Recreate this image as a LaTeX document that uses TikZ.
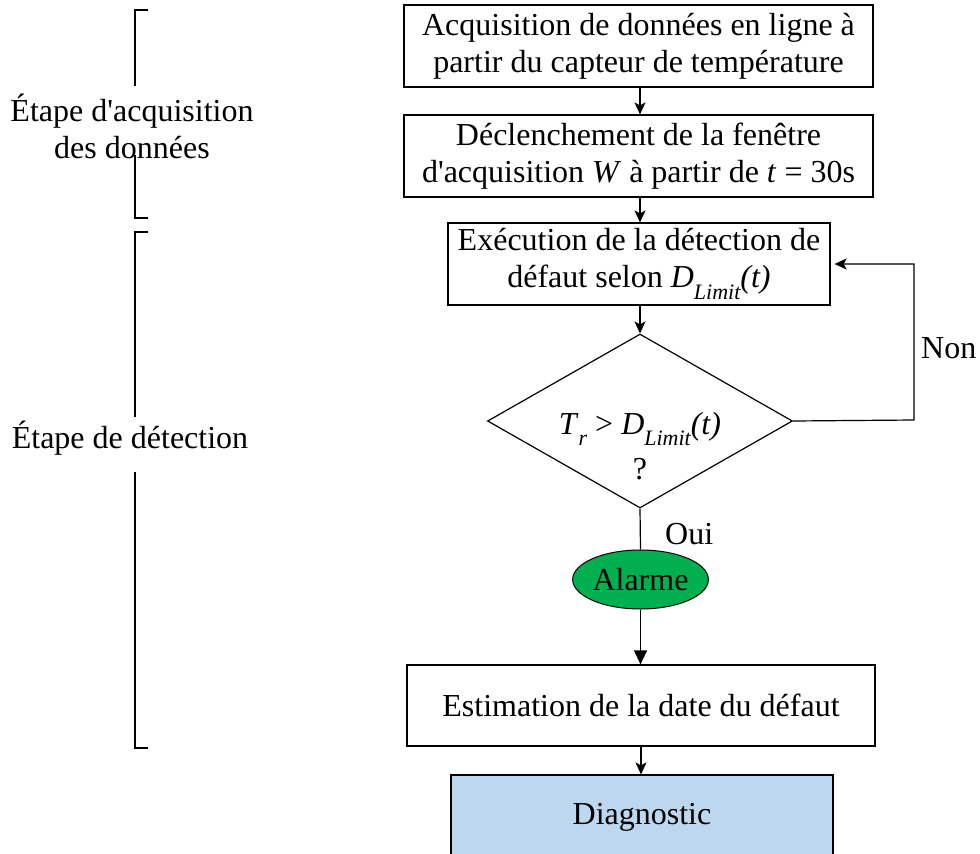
\documentclass[tikz,border=0pt]{standalone}
\usepackage{fontspec}
\setmainfont{Liberation Serif}[Ligatures=TeXOff]
\usetikzlibrary{shapes.geometric,arrows.meta}
\definecolor{alarmgreen}{HTML}{00B050}
\definecolor{diagblue}{HTML}{BDD7EE}
\newcommand{\mysub}[1]{\raisebox{-0.36em}{\fontsize{22}{22}\selectfont\itshape #1}}
\begin{document}
\begin{tikzpicture}[x=1pt,y=-1pt,
  every node/.style={font=\fontsize{32}{37}\selectfont},
  procbox/.style={draw, line width=1.2pt, rectangle, align=center, inner sep=0pt},
  lbl/.style={align=center, inner sep=0pt},
  link/.style={line width=1.2pt, -{Stealth[length=12pt,width=11pt,inset=3pt]}},
  bigtip/.style={line width=1.2pt, -{Triangle[length=14pt,width=13pt]}},
  plain/.style={line width=1.2pt},
  brack/.style={line width=1.4pt}]
\useasboundingbox (0,0) rectangle (980,854);

% flowchart nodes
\node[procbox, minimum width=469pt, minimum height=82pt] (b1) at (638.5,46)
  {Acquisition de données en ligne à\\partir du capteur de température};
\node[procbox, minimum width=469pt, minimum height=82pt] (b2) at (638.5,156)
  {Déclenchement de la fenêtre\\d'acquisition \textit{W} à partir de \textit{t} = 30s};
\node[procbox, minimum width=382pt, minimum height=82pt] (b3) at (639,264)
  {Exécution de la détection de\\défaut selon \textit{D}\mysub{Limit}\textit{(t)}};
\node[draw, line width=1.2pt, diamond, minimum width=305pt, minimum height=174pt, inner sep=0pt] (dec) at (640,421) {};
\node[lbl] (dectxt) at (640,446) {\textit{T}\mysub{r} > \textit{D}\mysub{Limit}\textit{(t)}\\[8pt]?};
\node[draw, line width=1pt, ellipse, fill=alarmgreen, minimum width=107pt, minimum height=59pt, inner sep=0pt] (alarm) at (640.5,579.5) {Alarme};
\node[procbox, minimum width=468pt, minimum height=81pt] (b4) at (641,705.5)
  {Estimation de la date du défaut};
\node[procbox, fill=diagblue, minimum width=382pt, minimum height=84pt] (diag) at (642,817)
  {Diagnostic};

% labels
\node[lbl, anchor=base west] (oui) at (665,544) {Oui};
\node[lbl, anchor=west] (non) at (921,348) {Non};
\node[lbl] (lab1) at (132,126) {Étape d'acquisition\\des données};
\node[lbl, anchor=base] (lab2) at (130,448) {Étape de détection};

% connectors
\draw[link] (b1.south -| 640,0) -- (b2.north -| 640,0);
\draw[link] (b2.south -| 640,0) -- (b3.north -| 640,0);
\draw[link] (b3.south -| 640,0) -- (dec.north);
\draw[plain] (dec.south) -- (alarm.north);
\draw[bigtip] (alarm.south) -- (b4.north -| alarm.south);
\draw[link] (b4.south -| 641,0) -- (diag.north -| 641,0);
\coordinate (loopA) at (914,420);
\coordinate (loopB) at (914,264);
\draw[line width=1.2pt, -{Stealth[length=12pt,width=11pt,inset=3pt]}, shorten >=4pt]
  (dec.east) -- (loopA) -- (loopB) -- (b3.east |- loopB);

% brackets
\coordinate (k1a) at (148,10); \coordinate (k1b) at (135,10); \coordinate (k1c) at (135,86);
\coordinate (k1d) at (135,155); \coordinate (k1e) at (135,218); \coordinate (k1f) at (148,218);
\draw[brack] (k1a) -- (k1b) -- (k1c);
\draw[brack] (k1d) -- (k1e) -- (k1f);
\coordinate (k2a) at (148,232); \coordinate (k2b) at (135,232); \coordinate (k2c) at (135,417);
\coordinate (k2d) at (135,472); \coordinate (k2e) at (135,748); \coordinate (k2f) at (148,748);
\draw[brack] (k2a) -- (k2b) -- (k2c);
\draw[brack] (k2d) -- (k2e) -- (k2f);
\end{tikzpicture}
\end{document}
